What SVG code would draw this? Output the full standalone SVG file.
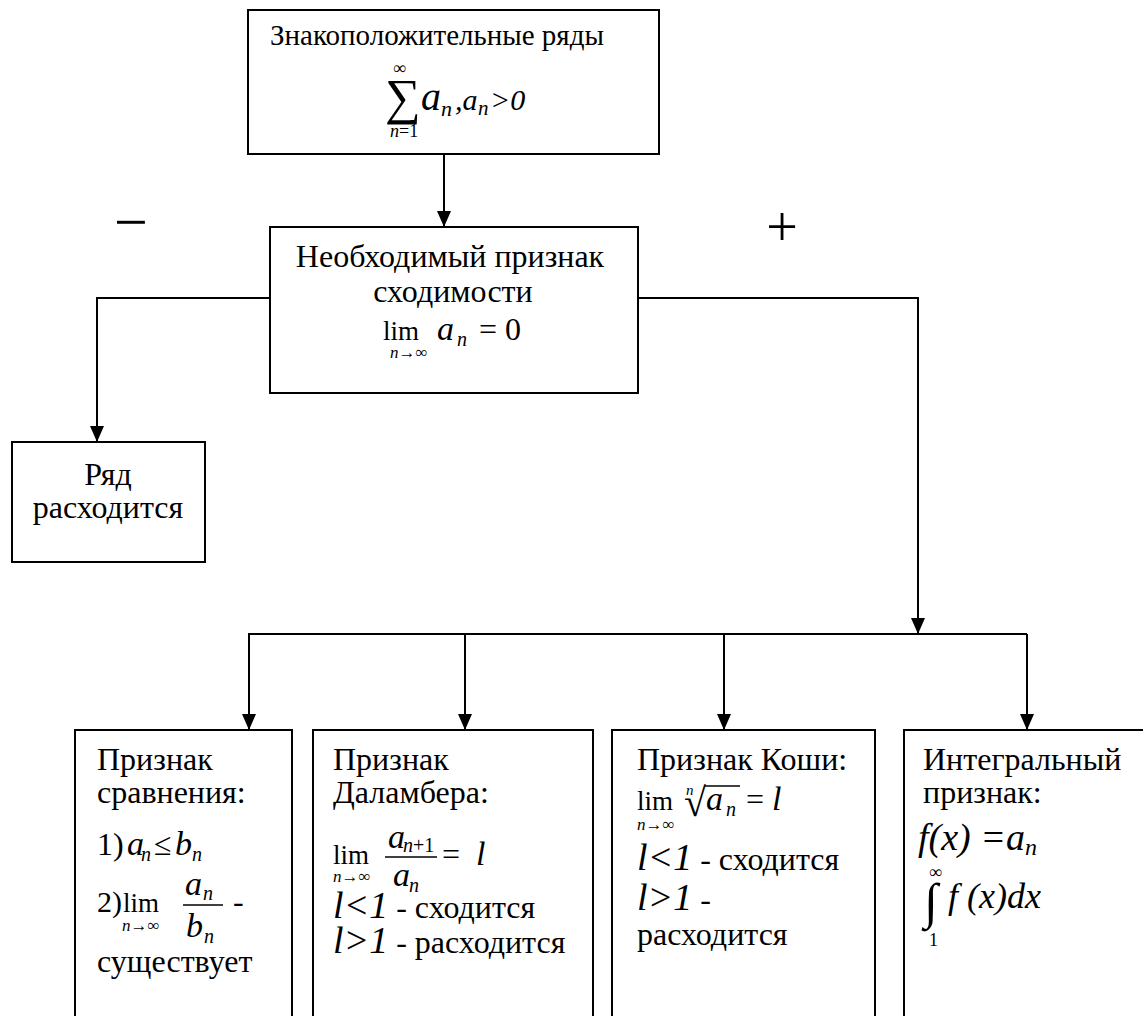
<svg xmlns="http://www.w3.org/2000/svg" width="1143" height="1016" viewBox="0 0 1143 1016">
<style>
.box{fill:#fff;stroke:#000;stroke-width:2}
.c{fill:none;stroke:#000;stroke-width:2}
.fr{fill:none;stroke:#000;stroke-width:1.5}
text{font-family:"Liberation Serif","Times New Roman",serif;fill:#000}
.t{font-size:32px}
.i{font-style:italic}
.s{font-size:17px}
.lim{font-size:27px}
.big{font-size:38px;font-style:italic}
</style>
<defs>
<marker id="ah" markerWidth="16" markerHeight="14" refX="16" refY="7" orient="auto" markerUnits="userSpaceOnUse">
<path d="M0,0 L16,7 L0,14 z" fill="#000"/>
</marker>
</defs>
<rect width="1143" height="1016" fill="#fff"/>

<g id="connectors">
<line class="c" x1="444" y1="154" x2="444" y2="227" marker-end="url(#ah)"/>
<polyline class="c" points="270,298 97,298 97,442" marker-end="url(#ah)"/>
<polyline class="c" points="638,298 918,298 918,634" marker-end="url(#ah)"/>
<line class="c" x1="248" y1="634" x2="1027" y2="634"/>
<line class="c" x1="249" y1="634" x2="249" y2="730" marker-end="url(#ah)"/>
<line class="c" x1="465" y1="634" x2="465" y2="730" marker-end="url(#ah)"/>
<line class="c" x1="724" y1="634" x2="724" y2="730" marker-end="url(#ah)"/>
<line class="c" x1="1027" y1="634" x2="1027" y2="730" marker-end="url(#ah)"/>
</g>

<g id="signs">
<text x="131" y="242" font-size="60" text-anchor="middle">−</text>
<text x="782" y="246" font-size="56" text-anchor="middle">+</text>
</g>

<g id="top">
<rect class="box" x="248" y="10" width="411" height="144"/>
<text x="270" y="45" style="font-size:29px">Знакоположительные ряды</text>
<text x="385" y="114" font-size="50">∑</text>
<text x="393" y="74" font-size="18">∞</text>
<text x="390" y="137" font-size="18"><tspan class="i">n</tspan>=1</text>
<text class="i" x="421" y="110" font-size="40">a</text>
<text class="i" x="441" y="116" font-size="22">n</text>
<text class="i" x="455" y="110" font-size="30">,a</text>
<text class="i" x="478" y="115" font-size="21">n</text>
<text class="i" x="490" y="110" font-size="30">&gt;0</text>
</g>

<g id="necessary">
<rect class="box" x="270" y="227" width="368" height="166"/>
<text class="t" x="450" y="267" text-anchor="middle">Необходимый признак</text>
<text class="t" x="453" y="302" text-anchor="middle">сходимости</text>
<text class="lim" x="383" y="340">lim</text>
<text class="s" x="390" y="358"><tspan class="i">n</tspan>→∞</text>
<text class="i" x="437" y="340" font-size="34">a</text>
<text class="i" x="457" y="346" font-size="20">n</text>
<text class="t" x="479" y="340">= 0</text>
</g>

<g id="diverges">
<rect class="box" x="12" y="442" width="193" height="120"/>
<text class="t" x="108" y="485" text-anchor="middle">Ряд</text>
<text class="t" x="108" y="518" text-anchor="middle">расходится</text>
</g>

<g id="comparison">
<rect class="box" x="75" y="730" width="217" height="310"/>
<text class="t" x="97" y="770">Признак</text>
<text class="t" x="97" y="803">сравнения:</text>
<text class="t" x="97" y="855">1)</text>
<text class="i" x="127" y="855" font-size="34">a</text>
<text class="i" x="141" y="861" font-size="20">n</text>
<text class="t" x="154" y="855">≤</text>
<text class="i" x="175" y="855" font-size="34">b</text>
<text class="i" x="192" y="861" font-size="20">n</text>
<text x="97" y="912" style="font-size:30px">2)</text>
<text class="lim" x="123" y="912">lim</text>
<text class="s" x="122" y="931"><tspan class="i">n</tspan>→∞</text>
<text class="i" x="185" y="895" font-size="34">a</text>
<text class="i" x="203" y="900" font-size="20">n</text>
<line class="fr" x1="183" y1="905" x2="223" y2="905"/>
<text class="i" x="186" y="937" font-size="34">b</text>
<text class="i" x="204" y="943" font-size="20">n</text>
<text class="t" x="233" y="912">-</text>
<text class="t" x="97" y="972">существует</text>
</g>

<g id="dalembert">
<rect class="box" x="313" y="730" width="280" height="310"/>
<text class="t" x="333" y="770">Признак</text>
<text class="t" x="333" y="803">Даламбера:</text>
<text class="lim" x="333" y="864">lim</text>
<text class="s" x="333" y="882"><tspan class="i">n</tspan>→∞</text>
<text class="i" x="388" y="848" font-size="34">a</text>
<text x="403" y="852" font-size="20"><tspan class="i">n</tspan>+1</text>
<line class="fr" x1="385" y1="857" x2="437" y2="857"/>
<text class="i" x="393" y="886" font-size="34">a</text>
<text class="i" x="409" y="892" font-size="20">n</text>
<text class="t" x="442" y="865">=</text>
<text class="i" x="476" y="865" font-size="34">l</text>
<text class="t" x="333" y="918"><tspan class="big">l&lt;1</tspan> - сходится</text>
<text class="t" x="333" y="953"><tspan class="big">l&gt;1</tspan> - расходится</text>
</g>

<g id="cauchy">
<rect class="box" x="612" y="730" width="263" height="310"/>
<text class="t" x="637" y="770">Признак Коши:</text>
<text class="lim" x="637" y="810">lim</text>
<text class="s" x="637" y="830"><tspan class="i">n</tspan>→∞</text>
<text class="i" x="686" y="795" font-size="15">n</text>
<text x="684" y="816" font-size="40">√</text>
<line class="fr" x1="705" y1="786" x2="740" y2="786"/>
<text class="i" x="706" y="810" font-size="34">a</text>
<text class="i" x="726" y="816" font-size="20">n</text>
<text class="t" x="746" y="810">=</text>
<text class="i" x="772" y="810" font-size="34">l</text>
<text class="t" x="637" y="870"><tspan class="big">l&lt;1</tspan> - сходится</text>
<text class="t" x="637" y="910"><tspan class="big">l&gt;1</tspan> -</text>
<text class="t" x="637" y="945">расходится</text>
</g>

<g id="integral">
<rect class="box" x="904" y="730" width="260" height="310"/>
<text class="t" x="923" y="770">Интегральный</text>
<text class="t" x="923" y="803">признак:</text>
<text class="i" x="918" y="850" font-size="38">f(x) =a<tspan font-size="24" dy="5">n</tspan></text>
<text x="929" y="878" font-size="18">∞</text>
<text x="924" y="918" font-size="50">∫</text>
<text x="929" y="946" font-size="18">1</text>
<text class="i" x="948" y="908" font-size="36">f (x)dx</text>
</g>
</svg>
